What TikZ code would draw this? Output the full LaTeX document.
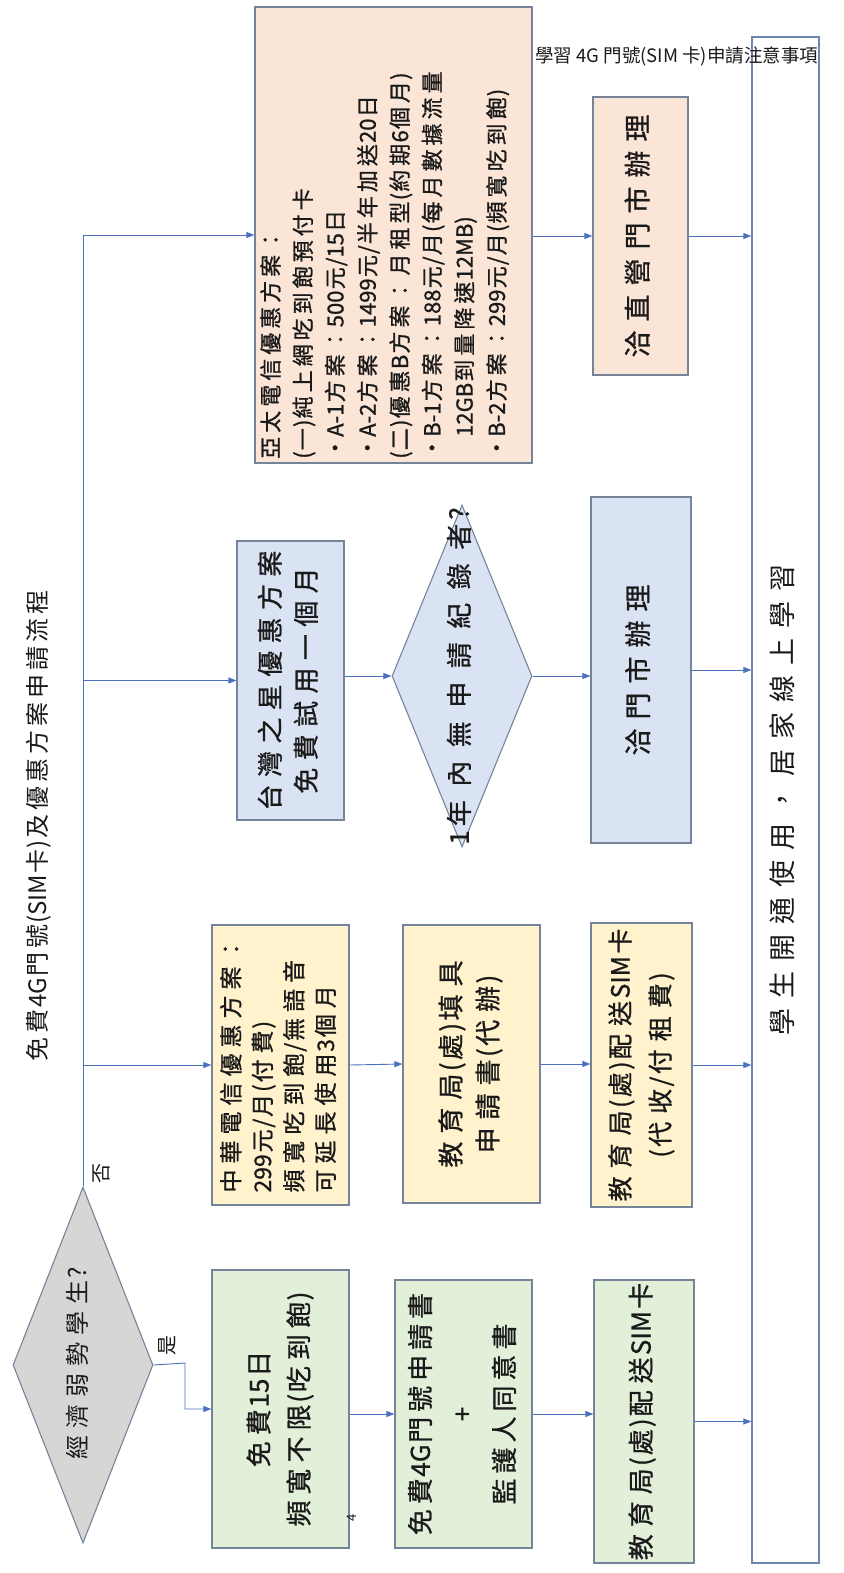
\documentclass[tikz,border=0pt]{standalone}
\usepackage{fontspec}
\setmainfont{Noto Sans CJK TC}
\usetikzlibrary{arrows.meta,shapes.geometric}
\definecolor{cgreen}{HTML}{E2EFD9}
\definecolor{cyellow}{HTML}{FFF2CC}
\definecolor{cblue}{HTML}{DAE3F3}
\definecolor{corange}{HTML}{FBE5D6}
\definecolor{cgray}{HTML}{D6D6D6}
\definecolor{cborder}{HTML}{76849A}
\definecolor{cbar}{HTML}{6F87B0}
\definecolor{cline}{HTML}{4A72C0}
\definecolor{ctext}{HTML}{1A1A1A}
% inter-character gap for CJK text
\newlength\cg
\newXeTeXintercharclass\cjkclass
\makeatletter
\count@="4E00 \loop\XeTeXcharclass\count@=\cjkclass\ifnum\count@<"9FFF\advance\count@\@ne\repeat
\count@="3000 \loop\XeTeXcharclass\count@=\cjkclass\ifnum\count@<"303F\advance\count@\@ne\repeat
\count@="FF00 \loop\XeTeXcharclass\count@=\cjkclass\ifnum\count@<"FFEF\advance\count@\@ne\repeat
\makeatother
\XeTeXinterchartoks\cjkclass\cjkclass={\hskip\cg}
\XeTeXinterchartoks\cjkclass 0={\hskip0.3\cg}
\XeTeXinterchartoks 0\cjkclass={\hskip0.3\cg}
\XeTeXinterchartokenstate=1
\newcommand\fb{\addfontfeature{FakeBold=0.9}}
% rotated text: [features] size, baselineskip, gap, lines
\newcommand\rtc[5][]{\rotatebox{90}{\fontsize{#2}{#3}\selectfont#1\setlength\cg{#4}\begin{tabular}{@{}c@{}}#5\end{tabular}}}
\newcommand\rtl[5][]{\rotatebox{90}{\fontsize{#2}{#3}\selectfont#1\setlength\cg{#4}\begin{tabular}{@{}l@{}}#5\end{tabular}}}
\newcommand\bul{\makebox[22pt][l]{•}}
\begin{document}
\begin{tikzpicture}[x=1pt,y=-1pt,
  box/.style={draw=cborder,line width=1.2pt,inner sep=0pt,text=ctext},
  dia/.style={draw=cborder,line width=1.1pt,diamond,inner sep=0pt},
  conn/.style={draw=cline,line width=0.9pt},
  arr/.style={conn,-{Triangle[length=8pt,width=6pt]}},
  lbl/.style={inner sep=0pt,text=ctext}]
\useasboundingbox[fill=white] (0,0) rectangle (843,1573);

% title
\node[lbl] (title) at (40,826) {\rtc{24}{26}{4pt}{免費4G門號(SIM卡)及優惠方案申請流程}};

% bar
\node[box,draw=cbar,fill=white,minimum width=67pt,minimum height=1526pt] (bar) at (785.5,800)
  {\rtc{27}{30}{10pt}{學生開通使用，居家線上學習}};
\node[lbl,anchor=west] (hdr) at (535,56) {\fontsize{18.5}{20}\selectfont\setlength\cg{0pt}學習 4G 門號(SIM 卡)申請注意事項};

% decision 1
\node[dia,fill=cgray,minimum width=140pt,minimum height=356pt] (d1) at (83,1365) {};
\node[lbl] (d1t) at (80,1363) {\rtc{24}{26}{7pt}{經濟弱勢學生?}};
\node[lbl] (yes) at (170,1345) {\rtc{20}{22}{0pt}{是}};
\node[lbl] (no) at (104,1173) {\rtc{20}{22}{0pt}{否}};

% green column
\node[box,fill=cgreen,minimum width=137pt,minimum height=278pt] (g1) at (280.5,1409)
  {\rtc[\fb]{26}{40}{6pt}{免費15日\\頻寬不限(吃到飽)}};
\node[box,fill=cgreen,minimum width=137pt,minimum height=268pt] (g2) at (463.5,1414)
  {\rtc[\fb]{26}{42}{5pt}{免費4G門號申請書\\+\\監護人同意書}};
\node[box,fill=cgreen,minimum width=100pt,minimum height=283pt] (g3) at (644,1421.5)
  {\rtc[\fb]{26}{30}{7pt}{教育局(處)配送SIM卡}};

% yellow column
\node[box,fill=cyellow,minimum width=137pt,minimum height=280pt] (y1) at (280.5,1065)
  {\rtl[\fb]{23}{31.5}{6pt}{中華電信優惠方案：\\299元/月(付費)\\頻寬吃到飽/無語音\\可延長使用3個月}};
\node[box,fill=cyellow,minimum width=137pt,minimum height=278pt] (y2) at (471.5,1064)
  {\rtc[\fb]{26}{37}{8pt}{教育局(處)填具\\申請書(代辦)}};
\node[box,fill=cyellow,minimum width=101pt,minimum height=284pt] (y3) at (641.5,1065)
  {\rtc[\fb]{25}{40}{8pt}{教育局(處)配送SIM卡\\(代收/付租費)}};

% blue column
\node[box,fill=cblue,minimum width=107pt,minimum height=279pt] (b1) at (290.5,680.5)
  {\rtc[\fb]{26}{36}{7.4pt}{台灣之星優惠方案\\免費試用一個月}};
\node[dia,fill=cblue,minimum width=140pt,minimum height=342pt] (d2) at (462,676) {};
\node[lbl] (d2t) at (462,676) {\rtc[\fb]{26}{28}{13.5pt}{1年內無申請紀錄者?}};
\node[box,fill=cblue,minimum width=100pt,minimum height=346pt] (b2) at (641,670)
  {\rtc[\fb]{27}{30}{9pt}{洽門市辦理}};

% orange column
\node[box,fill=corange,minimum width=277pt,minimum height=456pt] (ap) at (393.5,235) {};
\node[lbl,anchor=south west] (apt) at (256,459)
  {\rtl[\fb]{22}{32.3}{4pt}{亞太電信優惠方案：\\(一)純上網吃到飽預付卡\\\bul A-1方案：500元/15日\\\bul A-2方案：1499元/半年加送20日\\(二)優惠B方案：月租型(約期6個月)\\\bul B-1方案：188元/月(每月數據流量\\\hspace*{22pt}12GB到量降速12MB)\\\bul B-2方案：299元/月(頻寬吃到飽)}};
\node[box,fill=corange,minimum width=95pt,minimum height=278pt] (o2) at (640.5,236)
  {\rtc[\fb]{27}{30}{9pt}{洽直營門市辦理}};

% page number artefact
\node[lbl] (pg) at (352,1518) {\rotatebox{90}{\fontsize{13}{14}\selectfont 4}};

% connectors
\coordinate (jy) at (83,1065);
\coordinate (jb) at (83,680.5);
\coordinate (ybend) at (185,1363);
\draw[arr] (d1.north) |- (ap.west);
\draw[arr] (jb) -- (b1.west);
\draw[arr] (jy) -- (y1.west);
\draw[arr] (d1.east) -- (ybend) |- (g1.west);

\draw[arr] (g2.west -| g1.east) -- (g2.west);
\draw[arr] (g2.east) -- (g2.east -| g3.west);
\draw[arr] (g3.east) -- (g3.east -| bar.west);

\draw[arr] (y1.east) -- (y2.west);
\draw[arr] (y2.east) -- (y2.east -| y3.west);
\draw[arr] (y3.east) -- (y3.east -| bar.west);

\draw[arr] (d2.west -| b1.east) -- (d2.west);
\draw[arr] (d2.east) -- (d2.east -| b2.west);
\draw[arr] (b2.east) -- (b2.east -| bar.west);

\draw[arr] (o2.west -| ap.east) -- (o2.west);
\draw[arr] (o2.east) -- (o2.east -| bar.west);
\end{tikzpicture}
\end{document}
